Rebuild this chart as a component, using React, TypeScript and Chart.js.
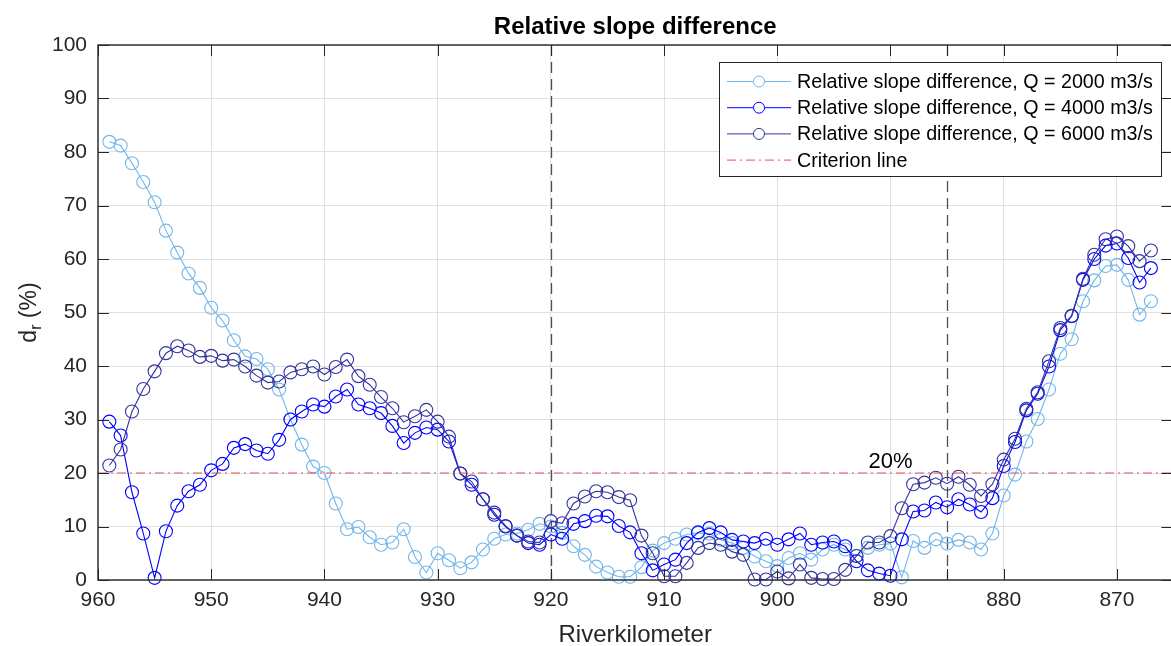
import React, { useEffect, useRef } from 'react';
import { Chart, registerables } from 'chart.js';

Chart.register(...registerables);

// ---------------- data ----------------
const riverKm = [
  959, 958, 957, 956, 955, 954, 953, 952, 951, 950,
  949, 948, 947, 946, 945, 944, 943, 942, 941, 940,
  939, 938, 937, 936, 935, 934, 933, 932, 931, 930,
  929, 928, 927, 926, 925, 924, 923, 922, 921, 920,
  919, 918, 917, 916, 915, 914, 913, 912, 911, 910,
  909, 908, 907, 906, 905, 904, 903, 902, 901, 900,
  899, 898, 897, 896, 895, 894, 893, 892, 891, 890,
  889, 888, 887, 886, 885, 884, 883, 882, 881, 880,
  879, 878, 877, 876, 875, 874, 873, 872, 871, 870,
  869, 868, 867,
];

const q2000 = [
  81.9, 81.2, 77.9, 74.4, 70.6, 65.3, 61.2, 57.3, 54.6, 50.9,
  48.5, 44.8, 41.8, 41.3, 39.4, 35.6, 30.0, 25.3, 21.2, 20.0,
  14.3, 9.5, 9.9, 8.0, 6.6, 7.0, 9.5, 4.3, 1.4, 5.0,
  3.7, 2.2, 3.3, 5.7, 7.7, 8.5, 8.7, 9.4, 10.5, 10.0,
  8.8, 6.3, 4.7, 2.5, 1.4, 0.6, 0.6, 2.4, 5.5, 6.9,
  7.7, 8.5, 8.8, 8.7, 7.5, 6.9, 6.0, 4.4, 3.5, 2.6,
  4.1, 5.0, 3.8, 5.7, 6.6, 5.7, 4.5, 6.0, 6.6, 6.8,
  0.5, 7.3, 6.0, 7.6, 6.8, 7.5, 7.0, 5.7, 8.7, 15.8,
  19.7, 25.9, 30.1, 35.6, 42.3, 45.0, 52.1, 56.0, 58.7, 58.9,
  56.1, 49.6, 52.1,
];

const q4000 = [
  29.6, 27.0, 16.4, 8.7, 0.4, 9.1, 13.9, 16.6, 17.8, 20.5,
  21.7, 24.7, 25.4, 24.2, 23.6, 26.2, 30.0, 31.5, 32.8, 32.4,
  34.3, 35.6, 32.8, 32.1, 31.2, 28.8, 25.6, 27.5, 28.5, 28.1,
  25.9, 19.9, 17.8, 15.1, 12.2, 10.0, 8.3, 6.9, 6.6, 8.5,
  7.7, 10.5, 11.0, 12.0, 11.9, 10.1, 8.9, 5.0, 1.8, 2.9,
  3.8, 6.9, 8.9, 9.7, 8.9, 7.5, 7.2, 6.9, 7.7, 6.6,
  7.6, 8.7, 6.6, 7.0, 7.2, 6.3, 3.5, 1.8, 1.2, 0.8,
  7.6, 12.8, 13.0, 14.5, 13.6, 15.1, 14.1, 12.7, 15.3, 21.3,
  25.8, 31.7, 34.8, 39.9, 46.7, 49.3, 56.1, 60.0, 62.5, 62.9,
  60.2, 55.6, 58.3,
];

const q6000 = [
  21.4, 24.4, 31.5, 35.7, 39.0, 42.4, 43.7, 42.9, 41.7, 41.9,
  41.0, 41.2, 39.9, 38.2, 36.9, 37.1, 38.8, 39.4, 39.9, 38.4,
  39.8, 41.2, 38.1, 36.5, 34.2, 32.1, 29.5, 30.6, 31.8, 29.6,
  26.8, 19.9, 18.4, 15.1, 12.6, 10.1, 8.3, 7.2, 7.0, 11.0,
  10.6, 14.3, 15.6, 16.6, 16.4, 15.5, 14.9, 8.3, 5.0, 0.7,
  0.7, 3.2, 6.0, 6.9, 6.6, 5.3, 4.7, 0.1, 0.1, 1.6,
  0.3, 2.9, 0.4, 0.2, 0.2, 1.9, 4.5, 7.0, 7.0, 8.2,
  13.4, 17.9, 18.2, 19.1, 18.0, 19.3, 17.8, 15.7, 17.9, 22.5,
  26.4, 32.0, 35.1, 40.9, 47.1, 49.4, 56.3, 60.8, 63.7, 64.2,
  62.4, 59.6, 61.6,
];

const criterionKm = [960, 865];
const criterionValue = [20, 20];

const seriesLabels = [
  'Relative slope difference, Q = 2000 m3/s',
  'Relative slope difference, Q = 4000 m3/s',
  'Relative slope difference, Q = 6000 m3/s',
  'Criterion line',
];

const xTickValues = [960, 950, 940, 930, 920, 910, 900, 890, 880, 870];
const extraTickKm = [885];
const sectionLineKm = [920, 885];
const yTickValues = [0, 10, 20, 30, 40, 50, 60, 70, 80, 90, 100];

const chartTitle = 'Relative slope difference';
const xTitle = 'Riverkilometer';
const annotationText = '20%';
const annotationKm = 890;
const annotationValue = 21;

// ---------------- style ----------------
const FONT = '"Liberation Sans", Arial, Helvetica, sans-serif';
const AXIS_COLOR = '#262626';
const GRID_COLOR = '#e0e0e0';
const C2000 = '#72b6ea';
const C4000 = '#0000ff';
const C6000 = '#34349c';
const CCRIT = '#e85058';
const CRIT_DASH = [9, 4, 2, 4];

const toPoints = (xs: number[], ys: number[]) => xs.map((x, i) => ({ x, y: ys[i] }));

const matlabPlugin = {
  id: 'matlabDecor',
  beforeDatasetsDraw(chart: any) {
    const { ctx, chartArea: a, scales } = chart;
    const x = scales.x;
    ctx.save();
    ctx.strokeStyle = '#505050';
    ctx.lineWidth = 1.3;
    ctx.setLineDash([11, 6]);
    for (const km of sectionLineKm) {
      const px = Math.round(x.getPixelForValue(km)) + 0.5;
      ctx.beginPath();
      ctx.moveTo(px, a.top);
      ctx.lineTo(px, a.bottom);
      ctx.stroke();
    }
    ctx.restore();
  },
  afterDraw(chart: any) {
    const { ctx, chartArea: a, scales } = chart;
    const x = scales.x;
    const y = scales.y;
    ctx.save();

    // annotation
    ctx.fillStyle = '#000';
    ctx.font = `22px ${FONT}`;
    ctx.textAlign = 'center';
    ctx.textBaseline = 'alphabetic';
    ctx.fillText(annotationText, x.getPixelForValue(annotationKm), y.getPixelForValue(annotationValue));

    // box
    ctx.strokeStyle = AXIS_COLOR;
    ctx.lineWidth = 1.4;
    ctx.setLineDash([]);
    ctx.strokeRect(a.left, a.top, a.right - a.left, a.bottom - a.top);

    // inward ticks
    const tl = 11;
    ctx.lineWidth = 1;
    ctx.beginPath();
    for (const v of [...xTickValues, ...extraTickKm]) {
      const px = Math.round(x.getPixelForValue(v)) + 0.5;
      ctx.moveTo(px, a.bottom);
      ctx.lineTo(px, a.bottom - tl);
      ctx.moveTo(px, a.top);
      ctx.lineTo(px, a.top + tl);
    }
    for (const v of yTickValues) {
      const py = Math.round(y.getPixelForValue(v)) + 0.5;
      ctx.moveTo(a.left, py);
      ctx.lineTo(a.left + tl, py);
      ctx.moveTo(a.right, py);
      ctx.lineTo(a.right - tl, py);
    }
    ctx.stroke();

    // title
    const cx = (a.left + a.right) / 2;
    ctx.fillStyle = '#000';
    ctx.font = `bold 24px ${FONT}`;
    ctx.textAlign = 'center';
    ctx.fillText(chartTitle, cx, 34);

    // x title
    ctx.fillStyle = AXIS_COLOR;
    ctx.font = `24px ${FONT}`;
    ctx.fillText(xTitle, cx, 642);

    // y title with subscript
    ctx.save();
    ctx.translate(36, (a.top + a.bottom) / 2);
    ctx.rotate(-Math.PI / 2);
    ctx.textAlign = 'left';
    const big = `23px ${FONT}`;
    const small = `16px ${FONT}`;
    ctx.font = big;
    const wD = ctx.measureText('d').width;
    ctx.font = small;
    const wR = ctx.measureText('r').width;
    ctx.font = big;
    const wRest = ctx.measureText(' (%)').width;
    const total = wD + wR + wRest;
    let sx = -total / 2;
    ctx.fillText('d', sx, 0);
    sx += wD;
    ctx.font = small;
    ctx.fillText('r', sx, 5);
    sx += wR;
    ctx.font = big;
    ctx.fillText(' (%)', sx, 0);
    ctx.restore();

    // legend
    const lx = 719.5, ly = 62.5, lw = 442, lh = 114;
    ctx.fillStyle = '#fff';
    ctx.fillRect(lx, ly, lw, lh);
    ctx.strokeStyle = AXIS_COLOR;
    ctx.lineWidth = 1;
    ctx.strokeRect(lx, ly, lw, lh);
    ctx.font = `19.7px ${FONT}`;
    ctx.textAlign = 'left';
    ctx.textBaseline = 'middle';
    chart.data.datasets.forEach((ds: any, i: number) => {
      const ry = 81.5 + i * 26.2;
      ctx.strokeStyle = ds.borderColor;
      ctx.lineWidth = 1;
      ctx.setLineDash(ds.borderDash || []);
      ctx.beginPath();
      ctx.moveTo(727, ry);
      ctx.lineTo(791, ry);
      ctx.stroke();
      ctx.setLineDash([]);
      if (ds.pointRadius > 0) {
        ctx.beginPath();
        ctx.arc(759, ry, 5.5, 0, Math.PI * 2);
        ctx.fillStyle = '#fff';
        ctx.fill();
        ctx.strokeStyle = ds.pointBorderColor;
        ctx.stroke();
      }
      ctx.fillStyle = '#000';
      ctx.fillText(ds.label, 797, ry + 1);
    });
    ctx.restore();
  },
};

export default function App() {
  const ref = useRef<HTMLCanvasElement | null>(null);

  useEffect(() => {
    if (!ref.current) return;
    const mk = (label: string, data: number[], color: string, order: number) => ({
      label,
      data: toPoints(riverKm, data),
      borderColor: color,
      borderWidth: 1.1,
      pointRadius: 6.5,
      pointBorderWidth: 1.1,
      pointBorderColor: color,
      pointBackgroundColor: 'rgba(0,0,0,0)',
      pointHoverRadius: 6.5,
      tension: 0,
      fill: false,
      clip: false as any,
      order,
    });
    const chart = new Chart(ref.current, {
      type: 'line',
      data: {
        datasets: [
          mk(seriesLabels[0], q2000, C2000, 3),
          mk(seriesLabels[1], q4000, C4000, 2),
          mk(seriesLabels[2], q6000, C6000, 1),
          {
            label: seriesLabels[3],
            data: toPoints(criterionKm, criterionValue),
            borderColor: CCRIT,
            borderWidth: 1.2,
            borderDash: CRIT_DASH,
            pointRadius: 0,
            pointBorderColor: CCRIT,
            fill: false,
            order: 0,
          } as any,
        ],
      },
      options: {
        animation: false,
        responsive: false,
        devicePixelRatio: 1,
        parsing: false as any,
        layout: { padding: { top: 45, right: 2, left: 0, bottom: 0 } },
        plugins: {
          legend: { display: false },
          title: { display: false },
          tooltip: { enabled: false },
        },
        events: [],
        scales: {
          x: {
            type: 'linear',
            reverse: true,
            min: 865.1,
            max: 960,
            afterBuildTicks: (s: any) => {
              s.ticks = xTickValues.map((v) => ({ value: v }));
            },
            afterFit: (s: any) => {
              s.height = 66;
            },
            grid: { color: GRID_COLOR, lineWidth: 1, drawTicks: false },
            border: { display: false },
            ticks: {
              color: AXIS_COLOR,
              font: { family: FONT, size: 21 },
              padding: 8,
              maxRotation: 0,
              autoSkip: false,
              callback: (v: any) => String(v),
            },
          },
          y: {
            type: 'linear',
            min: 0,
            max: 100,
            afterBuildTicks: (s: any) => {
              s.ticks = yTickValues.map((v) => ({ value: v }));
            },
            afterFit: (s: any) => {
              s.width = 98;
            },
            grid: { color: GRID_COLOR, lineWidth: 1, drawTicks: false },
            border: { display: false },
            ticks: {
              color: AXIS_COLOR,
              font: { family: FONT, size: 21 },
              padding: 11,
              callback: (v: any) => String(v),
            },
          },
        },
      },
      plugins: [matlabPlugin],
    });
    return () => chart.destroy();
  }, []);

  return (
    <div
      style={{
        position: 'fixed',
        left: 0,
        top: 0,
        width: 1171,
        height: 646,
        overflow: 'hidden',
        background: '#fff',
      }}
    >
      <canvas ref={ref} width={1180} height={646} style={{ width: 1180, height: 646, display: 'block' }} />
    </div>
  );
}
